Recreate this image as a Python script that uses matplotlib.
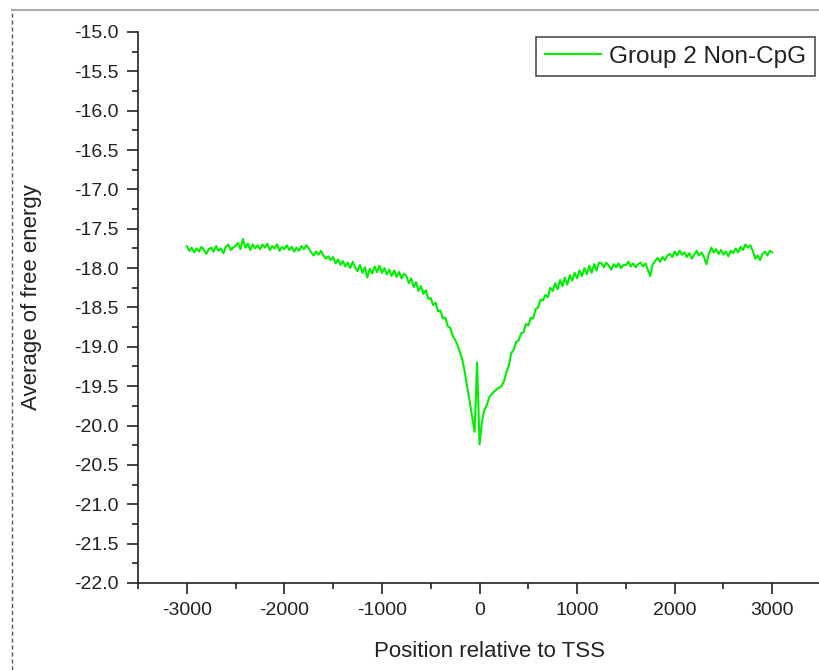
import numpy as np
import matplotlib
matplotlib.use("Agg")
import matplotlib.pyplot as plt
from matplotlib.lines import Line2D
from matplotlib.ticker import MultipleLocator, FormatStrFormatter

plt.rcParams['font.family'] = ['Liberation Sans', 'DejaVu Sans']
plt.rcParams['axes.unicode_minus'] = False

# position relative to TSS, every 25 bp
position = np.arange(-3000, 3001, 25)

# mean free energy per position
free_energy = [
    -17.72, -17.78, -17.74, -17.80, -17.75, -17.79, -17.73, -17.77, -17.82, -17.76,
    -17.74, -17.79, -17.72, -17.78, -17.75, -17.81, -17.73, -17.70, -17.77, -17.74,
    -17.72, -17.68, -17.76, -17.63, -17.74, -17.69, -17.77, -17.70, -17.75, -17.71,
    -17.76, -17.70, -17.74, -17.69, -17.77, -17.72, -17.75, -17.70, -17.78, -17.73,
    -17.76, -17.71, -17.77, -17.73, -17.79, -17.74, -17.78, -17.72, -17.76, -17.71,
    -17.75, -17.80, -17.84, -17.79, -17.83, -17.78, -17.84, -17.88, -17.85, -17.90,
    -17.86, -17.94, -17.89, -17.96, -17.91, -17.98, -17.93, -18.00, -17.92, -17.99,
    -18.04, -17.96, -18.06, -17.99, -18.12, -18.01, -18.07, -17.98, -18.05, -17.97,
    -18.06, -18.00, -18.08, -18.02, -18.10, -18.03, -18.11, -18.05, -18.13, -18.07,
    -18.10, -18.19, -18.13, -18.24, -18.18, -18.29, -18.23, -18.33, -18.28, -18.39,
    -18.38, -18.47, -18.44, -18.55, -18.54, -18.64, -18.63, -18.74, -18.76, -18.86,
    -18.91, -18.98, -19.07, -19.17, -19.33, -19.52, -19.70, -19.90, -20.08, -19.20,
    -20.24, -19.95, -19.80, -19.74, -19.64, -19.60, -19.57, -19.54, -19.52, -19.50,
    -19.44, -19.32, -19.24, -19.08, -19.04, -18.94, -18.92, -18.83, -18.82, -18.71,
    -18.73, -18.63, -18.64, -18.52, -18.50, -18.40, -18.41, -18.34, -18.37, -18.25,
    -18.29, -18.19, -18.27, -18.15, -18.23, -18.12, -18.21, -18.09, -18.16, -18.06,
    -18.13, -18.03, -18.10, -18.00, -18.08, -17.97, -18.06, -17.95, -18.03, -17.93,
    -17.94, -17.99, -17.93, -17.97, -18.02, -17.95, -17.99, -17.94, -18.00, -17.96,
    -17.96, -17.92, -17.98, -17.94, -17.99, -17.95, -17.93, -17.98, -17.94, -18.02,
    -18.10, -17.95, -17.91, -17.87, -17.92, -17.86, -17.90, -17.84, -17.82, -17.86,
    -17.79, -17.84, -17.78, -17.83, -17.80, -17.86, -17.81, -17.88, -17.83, -17.78,
    -17.84, -17.80, -17.86, -17.95, -17.82, -17.74, -17.80, -17.76, -17.82, -17.77,
    -17.83, -17.79, -17.85, -17.78, -17.81, -17.75, -17.80, -17.73, -17.77, -17.70,
    -17.74, -17.71, -17.78, -17.88, -17.84, -17.90, -17.82, -17.79, -17.84, -17.78,
    -17.80,
]

series_name = "Group 2 Non-CpG"

fig = plt.figure(figsize=(8.19, 6.70), dpi=100)
ax = fig.add_axes([0.1685, 0.1299, 0.834, 0.8224])

ax.plot(position, free_energy, color='#00ee00', lw=1.5, label=series_name)

ax.set_xlim(-3500, 3500)
ax.set_ylim(-22.0, -15.0)
ax.xaxis.set_major_locator(MultipleLocator(1000))
ax.xaxis.set_minor_locator(MultipleLocator(500))
ax.yaxis.set_major_locator(MultipleLocator(0.5))
ax.yaxis.set_minor_locator(MultipleLocator(0.25))
ax.yaxis.set_major_formatter(FormatStrFormatter('%.1f'))

for side in ('top', 'right'):
    ax.spines[side].set_visible(False)
for side in ('left', 'bottom'):
    ax.spines[side].set_color('#222222')
    ax.spines[side].set_linewidth(1.2)

ax.tick_params(which='major', direction='out', length=8, width=1.2,
               color='#222222', labelsize=14, labelcolor='#222222', pad=6)
ax.tick_params(which='minor', direction='out', length=4.5, width=1.2,
               color='#222222')

ax.set_xlabel("Position relative to TSS", fontsize=16, color='#222222')
ax.set_ylabel("Average of free energy", fontsize=16, color='#222222')
ax.xaxis.set_label_coords(0.515, -0.105)
ax.yaxis.set_label_coords(-0.1405, 0.519)

leg = ax.legend(loc='upper right', bbox_to_anchor=(815 / 819, 1 - 37 / 670),
                bbox_transform=fig.transFigure, fontsize=17.5, frameon=True,
                fancybox=False, borderaxespad=0, borderpad=0.35,
                handlelength=2.3, handletextpad=0.35)
leg.get_frame().set_edgecolor('#222222')
leg.get_frame().set_linewidth(1.2)
for t in leg.get_texts():
    t.set_color('#222222')

# outer frame lines along the top and left edge
fig.add_artist(Line2D([12 / 819, 1], [1 - 10 / 670, 1 - 10 / 670],
                      transform=fig.transFigure, color='#aaaaaa', lw=1.5))
fig.add_artist(Line2D([12 / 819, 12 / 819], [0, 1 - 10 / 670],
                      transform=fig.transFigure, color='#555555', lw=1,
                      ls=(0, (3, 2))))

fig.savefig('out.png', dpi=100)
